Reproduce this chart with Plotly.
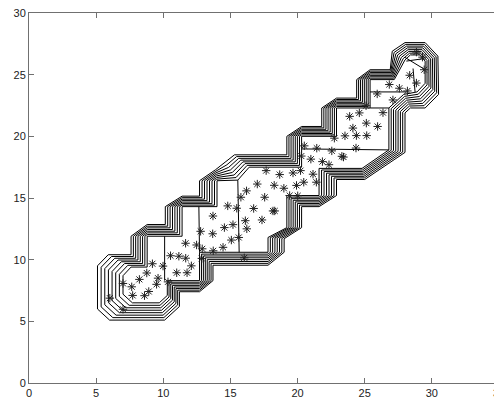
import numpy as np
import plotly.graph_objects as go

# ---- scatter data (asterisks) ----
pts_x = [6.02, 7.0, 7.0, 7.65, 7.72, 8.22, 8.6, 8.77, 8.92, 9.19, 9.5, 9.61, 9.98, 10.35,
         10.54, 11.16, 11.67, 11.0, 11.77, 12.09, 11.66, 12.48, 12.78, 12.9, 12.87, 13.7,
         13.68, 13.72, 14.45, 14.55, 14.8, 15.19, 15.47, 15.07, 15.62, 15.78, 16.2, 16.11,
         16.22, 16.03, 16.73, 17.0, 17.66, 17.55, 17.35, 18.17, 18.3, 18.26, 18.67, 18.98,
         19.66, 19.41, 19.92, 20.01, 20.22, 20.28, 20.46, 20.5, 20.99, 21.15, 21.4, 21.43,
         21.85, 22.34, 22.55, 22.74, 23.3, 23.42, 23.53, 23.88, 24.12, 24.38, 24.35, 24.6,
         25.15, 25.12, 25.1, 25.96, 25.93, 26.36, 26.83, 27.1, 27.58, 28.18, 28.35, 28.85,
         28.85, 29.3, 29.43]
pts_y = [6.88, 5.98, 8.07, 7.8, 7.1, 8.4, 7.08, 8.92, 7.42, 9.67, 8.0, 8.5, 9.48, 8.2,
         10.32, 10.28, 10.12, 8.94, 8.94, 9.5, 11.33, 11.19, 12.3, 10.88, 10.1, 13.54,
         12.1, 10.72, 11.0, 12.6, 14.36, 12.84, 14.17, 11.59, 11.8, 15.06, 15.58, 13.16,
         12.5, 10.15, 14.15, 16.13, 17.22, 15.06, 13.22, 13.95, 13.95, 16.03, 16.9, 15.79,
         17.03, 15.2, 16.02, 15.18, 17.22, 18.4, 16.28, 19.23, 18.15, 16.93, 16.28, 19.04,
         17.95, 17.7, 18.82, 19.85, 18.38, 18.32, 20.04, 21.62, 20.67, 20.06, 19.05, 21.9,
         20.06, 21.07, 22.48, 20.8, 23.44, 21.92, 24.2, 22.95, 23.9, 23.68, 24.95, 24.32,
         26.83, 26.42, 25.4]

# ---- envelope contour ring: outermost and innermost lines ----
outer_x = [5.1, 5.1, 5.9, 7.6, 7.6, 8.8, 10.15, 10.15, 11.4, 12.7, 12.7, 13.9, 14.6, 15.3,
           19.2, 19.2, 20.3, 21.8, 21.8, 22.9, 24.4, 24.4, 25.4, 26.9, 27.05, 28.0, 29.5,
           30.45, 30.5, 29.5, 28.4, 28.0, 28.0, 25.0, 22.9, 22.9, 21.6, 20.3, 20.3, 19.0,
           19.0, 17.8, 13.7, 13.7, 12.7, 11.2, 11.2, 10.1, 6.0]
outer_y = [6.0, 9.5, 10.4, 10.4, 11.9, 12.85, 12.85, 14.3, 15.15, 15.15, 16.4, 17.3, 17.9,
           18.5, 18.5, 20.0, 20.8, 20.8, 22.3, 23.1, 23.1, 24.6, 25.4, 25.4, 26.9, 27.6,
           27.6, 26.5, 23.4, 22.3, 22.3, 21.9, 18.7, 16.5, 16.5, 15.2, 14.3, 14.3, 12.6,
           11.7, 10.6, 9.55, 9.55, 8.3, 7.4, 7.4, 6.2, 5.1, 5.1]
inner_x = [7.0, 7.0, 7.6, 8.8, 8.8, 8.8, 11.4, 11.4, 11.4, 14.0, 14.0, 14.0, 15.55, 16.4,
           20.3, 20.3, 20.3, 22.9, 22.9, 22.9, 25.4, 25.4, 25.4, 27.2, 28.0, 28.4, 29.1,
           29.5, 29.5, 28.9, 27.9, 26.8, 26.8, 24.8, 21.6, 21.6, 21.6, 19.2, 19.2, 17.8,
           17.8, 17.8, 12.7, 12.7, 12.7, 10.3, 10.3, 9.7, 7.7]
inner_y = [7.2, 8.7, 9.4, 9.4, 11.9, 11.9, 11.9, 14.3, 14.3, 14.3, 16.4, 16.4, 16.45, 17.5,
           17.5, 20.0, 20.0, 20.0, 22.3, 22.3, 22.3, 24.6, 24.6, 24.6, 26.2, 26.6, 26.6,
           26.1, 24.3, 23.6, 23.4, 22.3, 18.9, 17.4, 17.4, 15.2, 15.2, 15.2, 12.6, 11.8,
           10.6, 10.6, 10.6, 8.3, 8.3, 8.3, 7.1, 6.5, 6.5]
n_lines = 8

# ---- internal partition lines (x0, y0, x1, y1) ----
seg_x0 = [10.1, 12.65, 15.55, 20.3, 25.4, 25.4, 28.0, 28.1, 28.6]
seg_y0 = [8.3, 14.3, 16.45, 18.98, 22.3, 23.6, 26.4, 26.1, 25.5]
seg_x1 = [10.1, 12.7, 15.65, 26.8, 26.8, 28.1, 29.5, 29.4, 28.75]
seg_y1 = [11.9, 10.6, 10.6, 18.9, 22.3, 23.6, 25.4, 26.3, 23.6]

x_ticks = [0, 5, 10, 15, 20, 25, 30, 35]
y_ticks = [0, 5, 10, 15, 20, 25, 30]

fig = go.Figure()

ox, oy = np.array(outer_x), np.array(outer_y)
ix, iy = np.array(inner_x), np.array(inner_y)
lx, ly = [], []
for k in range(n_lines):
    t = k / (n_lines - 1)
    px = ix + (ox - ix) * t
    py = iy + (oy - iy) * t
    lx += list(px) + [px[0], None]
    ly += list(py) + [py[0], None]
fig.add_trace(go.Scatter(x=lx, y=ly, mode="lines",
                         line=dict(color="black", width=1), hoverinfo="skip"))

sx, sy = [], []
for a, b, c, d in zip(seg_x0, seg_y0, seg_x1, seg_y1):
    sx += [a, c, None]
    sy += [b, d, None]
fig.add_trace(go.Scatter(x=sx, y=sy, mode="lines",
                         line=dict(color="black", width=1), hoverinfo="skip"))

fig.add_trace(go.Scatter(x=pts_x, y=pts_y, mode="markers",
                         marker=dict(symbol="asterisk-open", size=7, color="#222222",
                                     line=dict(color="#222222", width=1))))

axis_common = dict(showgrid=False, zeroline=False, showline=True, mirror="ticks",
                   linecolor="#707070", linewidth=1, ticks="inside", ticklen=5,
                   tickcolor="#707070", tickfont=dict(family="Liberation Sans", size=11,
                                                      color="#222222"),
                   ticklabeloverflow="allow", automargin=False)
fig.update_xaxes(range=[0, 35], tickvals=x_ticks, **axis_common)
fig.update_yaxes(range=[0, 30], tickvals=y_ticks, **axis_common)

# page body has an 8px margin: size the figure to fit the 502x399 window
fig.update_layout(width=494, height=391, showlegend=False,
                  margin=dict(l=21, r=3, t=5, b=16),
                  plot_bgcolor="white", paper_bgcolor="white")

fig.write_html("out.html")
